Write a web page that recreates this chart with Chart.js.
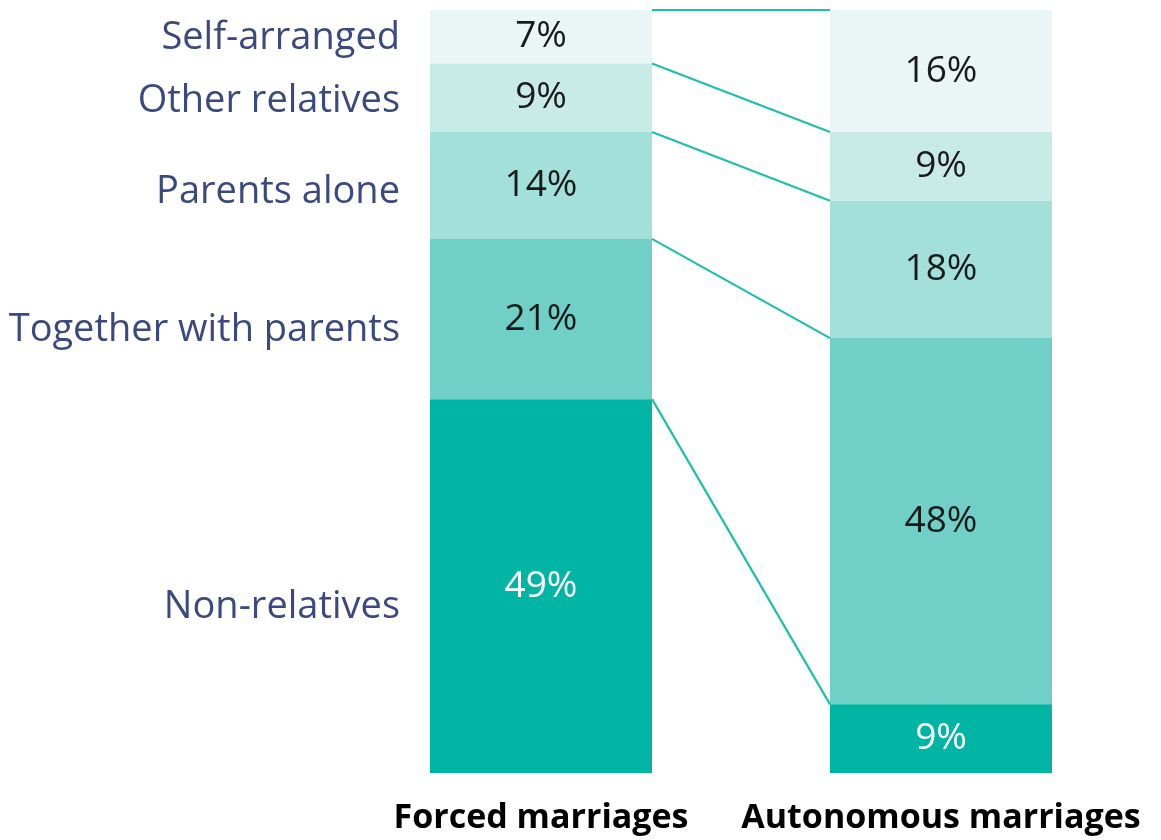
<!DOCTYPE html>
<html>
<head>
<meta charset="utf-8">
<script src="https://cdn.jsdelivr.net/npm/chart.js@4/dist/chart.umd.min.js"></script>
<style>
html,body{margin:0;padding:0;background:#fff;}
#wrap{width:1161px;height:840px;}
</style>
</head>
<body>
<div id="wrap"><canvas id="c" width="1161" height="840"></canvas></div>
<script>
const categories = ['Forced marriages', 'Autonomous marriages'];
const seriesNames = ['Non-relatives', 'Together with parents', 'Parents alone', 'Other relatives', 'Self-arranged'];
const nonRelatives = [49, 9];
const togetherWithParents = [21, 48];
const parentsAlone = [14, 18];
const otherRelatives = [9, 9];
const selfArranged = [7, 16];
const seriesColors = ['#00B5A3', '#70CFC6', '#A3E0DA', '#C9EBE8', '#E9F6F5'];
const labelColors = ['#ffffff', '#1a1a1a', '#1a1a1a', '#1a1a1a', '#1a1a1a'];
const seriesValues = [nonRelatives, togetherWithParents, parentsAlone, otherRelatives, selfArranged];

const overlay = {
  id: 'overlay',
  afterDatasetsDraw(chart) {
    const ctx = chart.ctx;
    const y = chart.scales.y;
    const x = chart.scales.x;
    const top = chart.chartArea.top;
    const metas = seriesValues.map((_, i) => chart.getDatasetMeta(i));
    // connector lines
    ctx.save();
    ctx.strokeStyle = '#1DBFAE';
    ctx.lineWidth = 2.2;
    let cumF = 0, cumA = 0;
    for (let i = 0; i < seriesValues.length; i++) {
      cumF += seriesValues[i][0];
      cumA += seriesValues[i][1];
      const b0 = metas[i].data[0], b1 = metas[i].data[1];
      const x0 = b0.x + b0.width / 2;
      const x1 = b1.x - b1.width / 2;
      ctx.beginPath();
      ctx.moveTo(x0, y.getPixelForValue(cumF));
      ctx.lineTo(x1, y.getPixelForValue(cumA));
      ctx.stroke();
    }
    ctx.restore();
    // value labels
    ctx.save();
    ctx.textAlign = 'center';
    ctx.textBaseline = 'middle';
    ctx.font = '37px "Open Sans", sans-serif';
    for (let i = 0; i < seriesValues.length; i++) {
      metas[i].data.forEach((bar, j) => {
        ctx.fillStyle = labelColors[i];
        ctx.fillText(seriesValues[i][j] + '%', bar.x, (bar.y + bar.base) / 2);
      });
    }
    // left category labels
    ctx.textAlign = 'right';
    ctx.fillStyle = '#3A4A80';
    ctx.font = '38px "Open Sans", sans-serif';
    for (let i = 0; i < seriesValues.length; i++) {
      const bar = metas[i].data[0];
      const mid = (bar.y + bar.base) / 2;
      ctx.fillText(seriesNames[i], 400, top + (mid - top) * 1.037);
    }
    // bottom category labels
    ctx.textAlign = 'center';
    ctx.fillStyle = '#000';
    ctx.font = 'bold 34px "Open Sans", sans-serif';
    categories.forEach((c, j) => {
      ctx.fillText(c, x.getPixelForValue(j), chart.chartArea.bottom + 45);
    });
    ctx.restore();
  }
};

new Chart(document.getElementById('c'), {
  type: 'bar',
  data: {
    labels: categories,
    datasets: seriesValues.map((vals, i) => ({
      label: seriesNames[i],
      data: vals,
      backgroundColor: seriesColors[i],
      borderWidth: 0,
      barPercentage: 0.555,
      categoryPercentage: 1.0
    }))
  },
  options: {
    responsive: false,
    animation: false,
    layout: { padding: { left: 341, right: 20, top: 10, bottom: 67 } },
    plugins: { legend: { display: false }, tooltip: { enabled: false } },
    scales: {
      x: {
        stacked: true,
        display: false
      },
      y: {
        stacked: true,
        display: false,
        min: 0,
        max: 100
      }
    }
  },
  plugins: [overlay]
});
</script>
</body>
</html>
